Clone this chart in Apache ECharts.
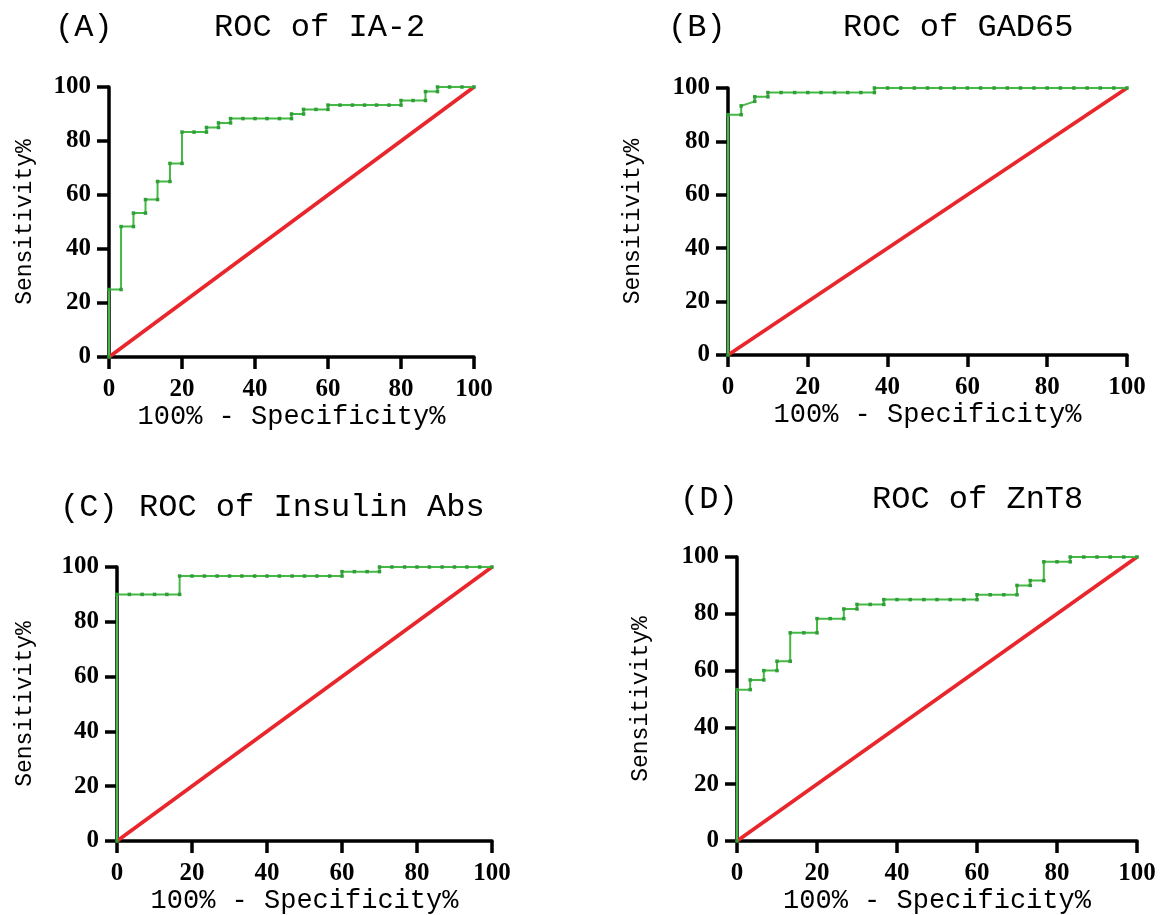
<!DOCTYPE html>
<html>
<head>
    <meta charset="utf-8" />
    <title>ROC curves</title>
    <script src="https://cdn.jsdelivr.net/npm/echarts@6.0.0/dist/echarts.min.js"></script>
    <style>
        body { margin: 0; background: #fff; }
        #main { width: 1160px; height: 915px; }
    </style>
</head>
<body>
<div id="main"></div>
<script type="text/javascript">
    // tick values shared by every axis
    var ticks = [0, 20, 40, 60, 80, 100];
    // reference diagonal
    var diagX = [0, 100];
    var diagY = [0, 100];

    // (A) IA-2: 100% - specificity% and sensitivity% for each plotted point
    var fprA = [0, 0, 3.3, 3.3, 6.7, 6.7, 10, 10, 13.3, 13.3, 16.7, 16.7, 20, 20, 23.3, 26.7, 26.7, 30, 30, 33.3, 33.3,
        36.7, 40, 43.3, 46.7, 50, 50, 53.3, 53.3, 56.7, 60, 60, 63.3, 66.7, 70, 73.3, 76.7, 80, 80, 83.3, 86.7, 86.7,
        90, 90, 93.3, 96.7, 100];
    var tprA = [0, 25, 25, 48.3, 48.3, 53.3, 53.3, 58.3, 58.3, 65, 65, 71.7, 71.7, 83.3, 83.3, 83.3, 85, 85, 86.7, 86.7, 88.3,
        88.3, 88.3, 88.3, 88.3, 88.3, 90, 90, 91.7, 91.7, 91.7, 93.3, 93.3, 93.3, 93.3, 93.3, 93.3, 93.3, 95, 95, 95, 98.3,
        98.3, 100, 100, 100, 100];

    // (B) GAD65
    var fprB = [0, 0, 3.3, 3.3, 6.7, 6.7, 10, 10, 13.3, 16.7, 20, 23.3, 26.7, 30, 33.3, 36.7, 36.7,
        40, 43.3, 46.7, 50, 53.3, 56.7, 60, 63.3, 66.7, 70, 73.3, 76.7, 80, 83.3, 86.7, 90, 93.3, 96.7, 100];
    var tprB = [0, 90, 90, 93.3, 95, 96.7, 96.7, 98.3, 98.3, 98.3, 98.3, 98.3, 98.3, 98.3, 98.3, 98.3, 100,
        100, 100, 100, 100, 100, 100, 100, 100, 100, 100, 100, 100, 100, 100, 100, 100, 100, 100, 100];

    // (C) Insulin Abs
    var fprC = [0, 0, 3.3, 6.7, 10, 13.3, 16.7, 16.7, 20, 23.3, 26.7, 30, 33.3, 36.7, 40, 43.3, 46.7, 50, 53.3, 56.7, 60,
        60, 63.3, 66.7, 70, 70, 73.3, 76.7, 80, 83.3, 86.7, 90, 93.3, 96.7, 100];
    var tprC = [0, 90, 90, 90, 90, 90, 90, 96.7, 96.7, 96.7, 96.7, 96.7, 96.7, 96.7, 96.7, 96.7, 96.7, 96.7, 96.7, 96.7, 96.7,
        98.3, 98.3, 98.3, 98.3, 100, 100, 100, 100, 100, 100, 100, 100, 100, 100];

    // (D) ZnT8
    var fprD = [0, 0, 3.3, 3.3, 6.7, 6.7, 10, 10, 13.3, 13.3, 16.7, 20, 20, 23.3, 26.7, 26.7, 30, 30, 33.3, 36.7, 36.7,
        40, 43.3, 46.7, 50, 53.3, 56.7, 60, 60, 63.3, 66.7, 70, 70, 73.3, 73.3, 76.7, 76.7, 80, 83.3, 83.3,
        86.7, 90, 93.3, 96.7, 100];
    var tprD = [0, 53.3, 53.3, 56.7, 56.7, 60, 60, 63.3, 63.3, 73.3, 73.3, 73.3, 78.3, 78.3, 78.3, 81.7, 81.7, 83.3, 83.3, 83.3, 85,
        85, 85, 85, 85, 85, 85, 85, 86.7, 86.7, 86.7, 86.7, 90, 90, 91.7, 91.7, 98.3, 98.3, 98.3, 100,
        100, 100, 100, 100, 100];

    var panels = [
        { tag: '(A)', name: 'ROC of IA-2', fpr: fprA, tpr: tprA,
          grid: { left: 109, top: 87, width: 365, height: 270 }, tagPos: [55, 12], namePos: [214, 12], yGap: 73 },
        { tag: '(B)', name: 'ROC of GAD65', fpr: fprB, tpr: tprB,
          grid: { left: 728, top: 88, width: 399, height: 267 }, tagPos: [668, 12], namePos: [843, 12], yGap: 84 },
        { tag: '(C)', name: 'ROC of Insulin Abs', fpr: fprC, tpr: tprC,
          grid: { left: 117, top: 567, width: 375, height: 277 }, tagPos: [60, 492], namePos: [139, 492], yGap: 81 },
        { tag: '(D)', name: 'ROC of ZnT8', fpr: fprD, tpr: tprD,
          grid: { left: 737, top: 557, width: 400, height: 284 }, tagPos: [680, 484], namePos: [872, 484], yGap: 85 }
    ];

    var titleFont = { fontFamily: 'Liberation Mono', fontSize: 32, fontWeight: 'normal', color: '#000' };
    var tickFont = { fontFamily: 'Liberation Serif', fontSize: 25, fontWeight: 'bold', color: '#000' };

    function axisBase(isX) {
        return {
            type: 'value',
            min: 0,
            max: 100,
            interval: 20,
            axisLine: { show: true, lineStyle: { color: '#000', width: 3.5 } },
            axisTick: { show: true, inside: false, length: 12, lineStyle: { color: '#000', width: 3.5 } },
            splitLine: { show: false },
            axisLabel: Object.assign({ margin: isX ? 20 : 18, formatter: function (v) {
                return ticks.indexOf(v) >= 0 ? String(v) : '';
            } }, tickFont)
        };
    }

    var chart = echarts.init(document.getElementById('main'));
    var option = { backgroundColor: '#fff', animation: false, title: [], grid: [], xAxis: [], yAxis: [], series: [] };

    panels.forEach(function (p, i) {
        option.title.push({ text: p.tag, left: p.tagPos[0], top: p.tagPos[1], padding: 0, textStyle: titleFont });
        option.title.push({ text: p.name, left: p.namePos[0], top: p.namePos[1], padding: 0, textStyle: titleFont });
        option.grid.push(p.grid);

        var xa = axisBase(true);
        xa.gridIndex = i;
        xa.name = '100% - Specificity%';
        xa.nameLocation = 'middle';
        xa.nameGap = 46;
        xa.nameTextStyle = { fontFamily: 'Liberation Mono', fontSize: 27, color: '#000' };
        option.xAxis.push(xa);

        var ya = axisBase(false);
        ya.gridIndex = i;
        ya.name = 'Sensitivity%';
        ya.nameLocation = 'middle';
        ya.nameGap = p.yGap;
        ya.nameTextStyle = { fontFamily: 'Liberation Mono', fontSize: 23, color: '#000' };
        option.yAxis.push(ya);

        option.series.push({
            type: 'line',
            xAxisIndex: i,
            yAxisIndex: i,
            data: diagX.map(function (x, k) { return [x, diagY[k]]; }),
            showSymbol: false,
            lineStyle: { color: '#e8262b', width: 3.8 },
            z: 3
        });
        option.series.push({
            type: 'line',
            xAxisIndex: i,
            yAxisIndex: i,
            data: p.fpr.map(function (x, k) { return [x, p.tpr[k]]; }),
            symbol: 'rect',
            symbolSize: 3.5,
            showSymbol: true,
            showAllSymbol: true,
            itemStyle: { color: '#2f9e37' },
            lineStyle: { color: '#45b945', width: 2 },
            z: 4
        });
    });

    chart.setOption(option);
</script>
</body>
</html>
